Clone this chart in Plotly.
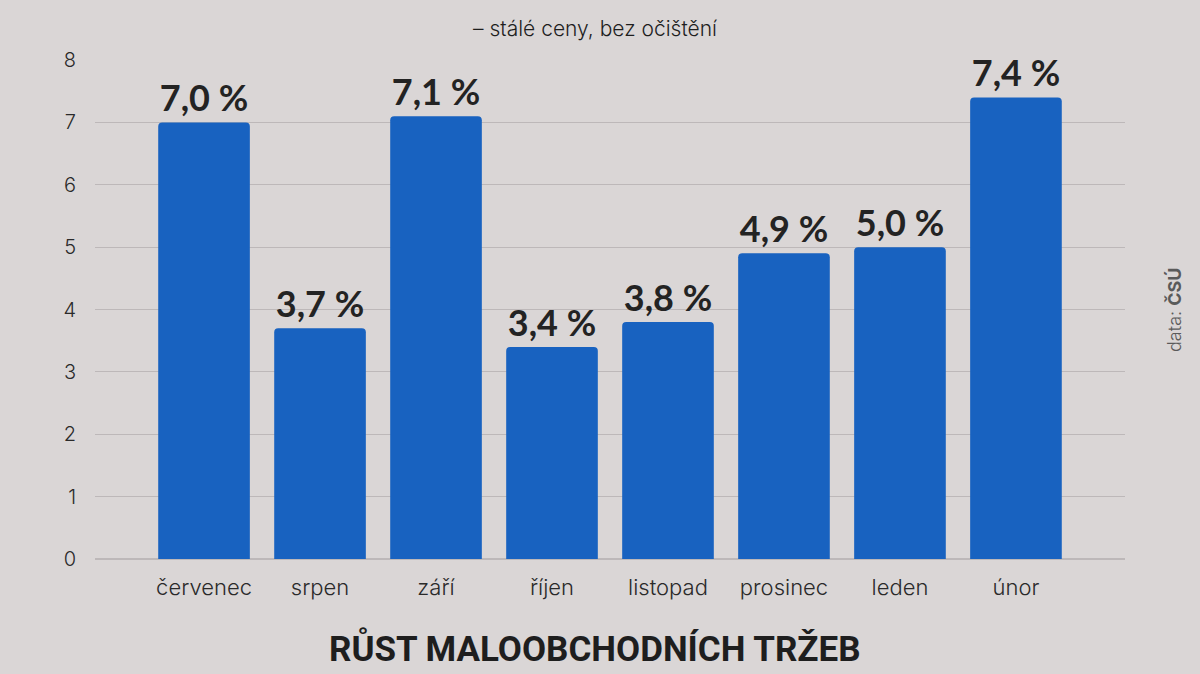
import plotly.graph_objects as go

mesice = ["červenec", "srpen", "září", "říjen", "listopad", "prosinec", "leden", "únor"]
rust = [7.0, 3.7, 7.1, 3.4, 3.8, 4.9, 5.0, 7.4]
popisky = ["7,0 %", "3,7 %", "7,1 %", "3,4 %", "3,8 %", "4,9 %", "5,0 %", "7,4 %"]
y_ticks = [0, 1, 2, 3, 4, 5, 6, 7, 8]

fig = go.Figure()
fig.add_trace(go.Bar(x=mesice, y=rust, text=popisky,
                     textposition="outside", cliponaxis=False,
                     textfont=dict(family="Lato", size=36, color="#232323", weight="bold"),
                     marker=dict(color="#1862c0", line=dict(width=0)),
                     width=0.79))

fig.update_layout(
    width=1200, height=674,
    paper_bgcolor="#dad6d6", plot_bgcolor="rgba(0,0,0,0)",
    margin=dict(l=95, r=75, t=60, b=115),
    showlegend=False,
    barcornerradius=4,
    font=dict(family="Inter", color="#2a2a2a"),
    xaxis=dict(range=[-0.94, 7.94], showgrid=False, zeroline=False, showline=False,
               ticks="", tickfont=dict(size=22, color="#2a2a2a", weight=300),
               ticklabelstandoff=13),
    yaxis=dict(range=[0, 8], tickvals=y_ticks, showgrid=True, gridcolor="#bdb8b9",
               gridwidth=1, zeroline=True, zerolinecolor="#bdb8b9", showline=False,
               ticks="", tickfont=dict(size=20, color="#2a2a2a", weight=300),
               ticklabelstandoff=18),
)

fig.add_annotation(text="– stálé ceny, bez očištění", xref="paper", yref="paper",
                   x=0.485, y=1.0, yanchor="middle", yshift=32, showarrow=False,
                   font=dict(size=21, color="#1e1e1e", weight=300))
fig.add_annotation(text="RŮST MALOOBCHODNÍCH TRŽEB", xref="paper", yref="paper",
                   x=0.485, y=0, yanchor="middle", yshift=-89, showarrow=False,
                   font=dict(family="Roboto", size=35, color="#1e1e1e", weight="bold"))
fig.add_annotation(text="data: <b>ČSÚ</b>", xref="paper", yref="paper",
                   x=1.0, xshift=62, y=0.5, textangle=-90, showarrow=False,
                   font=dict(size=18, color="#5a5a5a", weight=300))

fig.write_html("out.html", config={"displayModeBar": False},
               post_script="document.body.style.margin='0';")
